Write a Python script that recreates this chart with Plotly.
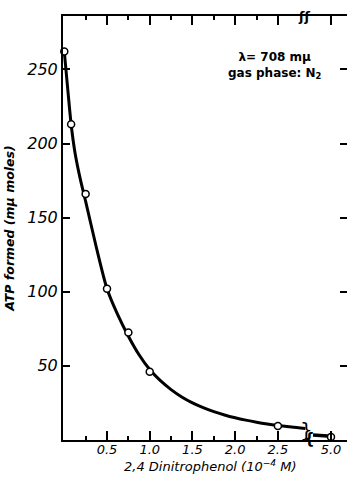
import plotly.graph_objects as go

# measured points
dnp_conc = [0.0, 0.08, 0.25, 0.5, 0.75, 1.0, 2.5]
atp_formed = [262, 213, 166, 102, 72.5, 46, 9.5]
dnp_conc_far = [5.0]
atp_formed_far = [2.0]

# smooth curve
curve_x = [0, 0.04, 0.08, 0.125, 0.1875, 0.25, 0.375, 0.5, 0.625, 0.75, 0.875,
           1.0, 1.125, 1.25, 1.375, 1.5, 1.625, 1.75, 1.875, 2.0, 2.125, 2.25,
           2.375, 2.5, 2.66, 2.82]
curve_y = [262, 237, 213, 194, 176, 161, 130, 102, 84.5, 70, 57.5,
           47.5, 40, 34, 29, 25, 21.8, 19.1, 16.9, 15.0, 13.4, 12.0,
           10.8, 9.8, 8.7, 7.8]
curve_far_x = [4.79, 5.0]
curve_far_y = [3.3, 2.5]

x_ticks = [0.5, 1.0, 1.5, 2.0, 2.5]
x_tick_labels = ["0.5", "1.0", "1.5", "2.0", "2.5"]
x_minor_ticks = [0.25, 0.75, 1.25, 1.75, 2.25]
x_far_ticks = [5.0]
x_far_labels = ["5.0"]
y_ticks = [50, 100, 150, 200, 250]
y_tick_labels = ["50", "100", "150", "200", "250"]

BLACK = "#000000"
tick_font = dict(family="DejaVu Sans", size=13, color=BLACK, style="italic")

fig = go.Figure()
fig.add_trace(go.Scatter(x=curve_x, y=curve_y, mode="lines",
                         line=dict(color=BLACK, width=3, shape="spline", smoothing=0.7),
                         hoverinfo="skip", showlegend=False))
fig.add_trace(go.Scatter(x=dnp_conc, y=atp_formed, mode="markers",
                         marker=dict(symbol="circle", size=7, color="white",
                                     line=dict(color=BLACK, width=1.5)),
                         cliponaxis=False, showlegend=False))
fig.add_trace(go.Scatter(x=curve_far_x, y=curve_far_y, mode="lines",
                         line=dict(color=BLACK, width=3.5),
                         xaxis="x2", yaxis="y2", showlegend=False))
fig.add_trace(go.Scatter(x=dnp_conc_far, y=atp_formed_far, mode="markers",
                         marker=dict(symbol="circle", size=7, color="white",
                                     line=dict(color=BLACK, width=1.5)),
                         xaxis="x2", yaxis="y2", cliponaxis=False, showlegend=False))

split = 0.859
common_x = dict(showline=True, linewidth=2, linecolor=BLACK, ticks="inside",
                ticklen=9, tickwidth=1.5, tickcolor=BLACK, mirror="ticks",
                showgrid=False, zeroline=False, tickfont=tick_font,
                ticklabelstandoff=-4)

fig.update_layout(
    width=347, height=479,
    margin=dict(l=63, r=0, t=16, b=39),
    paper_bgcolor="white", plot_bgcolor="white",
    xaxis=dict(domain=[0, split], range=[-0.015, 2.84], tickmode="array",
               tickvals=x_ticks, ticktext=x_tick_labels,
               minor=dict(tickvals=x_minor_ticks, ticks="inside", ticklen=4,
                          tickwidth=1.5, tickcolor=BLACK),
               **common_x),
    xaxis2=dict(domain=[split, 1], range=[4.719, 5.187], anchor="y",
                tickmode="array", tickvals=x_far_ticks, ticktext=x_far_labels,
                **common_x),
    yaxis=dict(range=[0, 286], showline=True, linewidth=2, linecolor=BLACK,
               ticks="inside", ticklen=7, tickwidth=1.5, tickcolor=BLACK,
               tickmode="array", tickvals=y_ticks, ticktext=y_tick_labels,
               showgrid=False, zeroline=False,
               tickfont=dict(family="DejaVu Sans", size=16, color=BLACK, style="italic"),
               title=dict(text="ATP formed (mμ moles)", standoff=10,
                          font=dict(family="DejaVu Sans", size=12.5, color=BLACK,
                                    style="italic", weight="bold"))),
    yaxis2=dict(range=[0, 286], overlaying="y", side="right", anchor="free",
                position=1, showline=False, ticks="inside", ticklen=7,
                tickwidth=1.5, tickcolor=BLACK, tickmode="array", tickvals=y_ticks,
                showticklabels=False, showgrid=False, zeroline=False),
    annotations=[
        dict(text="λ= 708 mμ<br>gas phase: N<sub>2</sub>", xref="paper", yref="paper",
             x=0.746, y=0.884, xanchor="center", yanchor="middle", showarrow=False,
             font=dict(family="DejaVu Sans", size=12, color=BLACK, weight="bold")),
        dict(text="2,4 Dinitrophenol (10<sup>−4</sup> M)", xref="paper", yref="paper",
             x=0.518, y=-0.062, xanchor="center", yanchor="middle", showarrow=False,
             font=dict(family="DejaVu Sans", size=13, color=BLACK, style="italic")),
        dict(text="}", xref="x", yref="y", x=2.83, y=7, showarrow=False,
             font=dict(family="DejaVu Sans", size=20, color=BLACK)),
        dict(text="{", xref="x2", yref="y", x=4.745, y=1, showarrow=False,
             font=dict(family="DejaVu Sans", size=15, color=BLACK, weight="bold")),
        dict(text="ʃʃ", xref="paper", yref="paper", x=0.85, y=1.0,
             xanchor="center", yanchor="middle", showarrow=False,
             font=dict(family="DejaVu Sans", size=13, color=BLACK, weight="bold")),
    ],
)

fig.write_html("out.html")
